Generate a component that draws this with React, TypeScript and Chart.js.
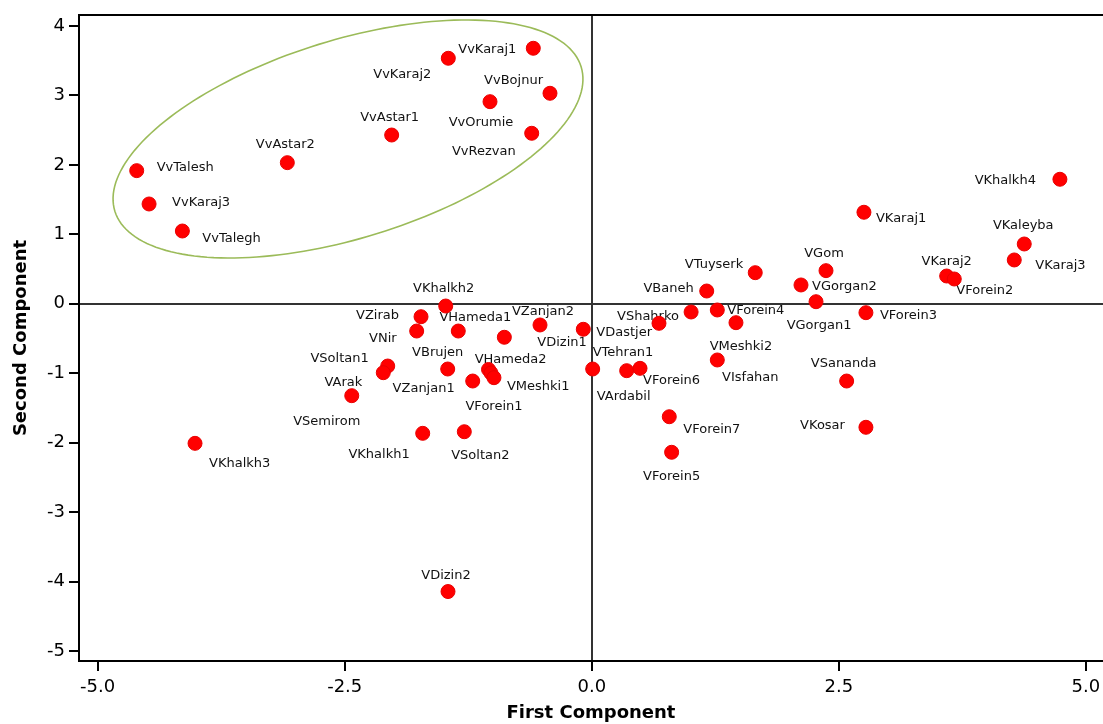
import React, { useEffect, useRef } from 'react';
import { Chart, registerables } from 'chart.js';

Chart.register(...registerables);

// Genotype names
const names: string[] = [
  'VvTalesh', 'VvKaraj3', 'VvTalegh', 'VvAstar2', 'VvAstar1', 'VvKaraj2', 'VvKaraj1', 'VvBojnur', 'VvOrumie', 'VvRezvan',
  'VKhalkh2', 'VZirab', 'VNir', 'VHameda1', 'VZanjan2', 'VDizin1', 'VDastjer', 'VSoltan1', 'VArak', 'VSemirom',
  'VBrujen', 'VZanjan1', 'VHameda2', 'VForein1', 'VMeshki1', 'VKhalkh1', 'VSoltan2', 'VKhalkh3', 'VDizin2',
  'VTuyserk', 'VGom', 'VGorgan2', 'VGorgan1', 'VBaneh', 'VShahrko', '', 'VForein4', 'VMeshki2', 'VIsfahan',
  'VTehran1', 'VArdabil', 'VForein6', 'VForein7', 'VForein5', 'VSananda', 'VKosar',
  'VKhalkh4', 'VKaraj1', 'VKaleyba', 'VKaraj3', 'VKaraj2', 'VForein2', 'VForein3',
];

// First principal component scores
const firstComponent: number[] = [
  -4.605, -4.480, -4.143, -3.081, -2.025, -1.452, -0.592, -0.423, -1.030, -0.608,
  -1.478, -1.728, -1.772, -1.351, -0.524, -0.885, -0.086, -2.065, -2.110, -2.429,
  -1.458, -1.205, -1.045, -1.020, -0.990, -1.711, -1.290, -4.015, -1.455,
  1.654, 2.370, 2.117, 2.269, 1.163, 0.680, 1.005, 1.270, 1.459, 1.270,
  0.009, 0.353, 0.488, 0.784, 0.808, 2.579, 2.774,
  4.737, 2.754, 4.376, 4.275, 3.591, 3.668, 2.774,
];

// Second principal component scores
const secondComponent: number[] = [
  1.917, 1.437, 1.048, 2.032, 2.430, 3.535, 3.679, 3.031, 2.910, 2.455,
  -0.032, -0.186, -0.392, -0.392, -0.305, -0.482, -0.367, -0.896, -0.992, -1.323,
  -0.939, -1.112, -0.946, -0.996, -1.064, -1.865, -1.842, -2.009, -4.143,
  0.448, 0.477, 0.271, 0.030, 0.184, -0.281, -0.118, -0.089, -0.272, -0.809,
  -0.939, -0.963, -0.929, -1.626, -2.138, -1.112, -1.778,
  1.793, 1.318, 0.861, 0.631, 0.400, 0.357, -0.128,
];

const xTickValues: number[] = [-5, -2.5, 0, 2.5, 5];
const yTickValues: number[] = [-5, -4, -3, -2, -1, 0, 1, 2, 3, 4];

// Ellipse enclosing the Vv group (data units: centre, semi-axis vectors)
const groupEllipse = { cx: -2.467, cy: 2.373, ux: 2.359, uy: 1.04, vx: 0.296, vy: -1.362 };

// Label placement (style): [textAlign, dx px, dy px]
const labelPlacement: Record<string, [CanvasTextAlign, number, number]> = {
  VvTalesh: ['left', 20, -3], VvKaraj3: ['left', 23, -1], VvTalegh: ['left', 20, 8],
  VvAstar2: ['center', -2, -18], VvAstar1: ['center', -2, -17], VvKaraj2: ['right', -17, 16],
  VvKaraj1: ['right', -17, 1], VvBojnur: ['right', -7, -13], VvOrumie: ['center', -9, 21],
  VvRezvan: ['right', -16, 18],
  VKhalkh2: ['center', -2, -17], VZirab: ['right', -22, -1], VNir: ['right', -20, 8],
  VHameda1: ['center', 17, -13], VZanjan2: ['center', 3, -13], VDizin1: ['left', 33, 5],
  VDastjer: ['left', 13, 3], VSoltan1: ['right', -19, -7], VArak: ['right', -21, 10],
  VSemirom: ['center', -25, 26], VBrujen: ['center', -10, -16], VZanjan1: ['right', -18, 8],
  VHameda2: ['center', 22, -10], VForein1: ['center', 3, 34], VMeshki1: ['left', 13, 9],
  VKhalkh1: ['right', -13, 21], VSoltan2: ['center', 16, 24], VKhalkh3: ['left', 14, 20],
  VDizin2: ['center', -2, -16],
  VTuyserk: ['right', -12, -8], VGom: ['center', -2, -17], VGorgan2: ['left', 11, 2],
  VGorgan1: ['center', 3, 24], VBaneh: ['right', -13, -2], VShahrko: ['center', -11, -7],
  VForein4: ['left', 10, 1], VMeshki2: ['center', 5, 24], VIsfahan: ['center', 33, 18],
  VTehran1: ['left', 0, -16], VArdabil: ['center', -3, 26], VForein6: ['left', 3, 12],
  VForein7: ['left', 14, 13], VForein5: ['center', 0, 24], VSananda: ['center', -3, -17],
  VKosar: ['right', -21, -2],
  VKhalkh4: ['right', -24, 1], VKaraj1: ['left', 12, 6], VKaleyba: ['center', -1, -18],
  VKaraj3: ['left', 21, 6], VKaraj2: ['center', 0, -14], VForein2: ['left', 2, 12],
  VForein3: ['left', 14, 3],
};

const FONT = '"DejaVu Sans", Verdana, sans-serif';

const overlayPlugin = {
  id: 'overlay',
  beforeDatasetsDraw(chart: any) {
    const { ctx, scales } = chart;
    const xs = scales.x;
    const ys = scales.y;
    ctx.save();
    // ellipse
    ctx.beginPath();
    const N = 180;
    for (let i = 0; i <= N; i++) {
      const t = (i / N) * Math.PI * 2;
      const dx = groupEllipse.cx + groupEllipse.ux * Math.cos(t) + groupEllipse.vx * Math.sin(t);
      const dy = groupEllipse.cy + groupEllipse.uy * Math.cos(t) + groupEllipse.vy * Math.sin(t);
      const px = xs.getPixelForValue(dx);
      const py = ys.getPixelForValue(dy);
      if (i === 0) ctx.moveTo(px, py);
      else ctx.lineTo(px, py);
    }
    ctx.closePath();
    ctx.strokeStyle = '#9bbb59';
    ctx.lineWidth = 1.6;
    ctx.stroke();
    // labels
    ctx.font = `13px ${FONT}`;
    ctx.fillStyle = '#111111';
    ctx.textBaseline = 'middle';
    names.forEach((name, i) => {
      if (!name) return;
      const place = labelPlacement[name] || ['left', 12, 0];
      const px = xs.getPixelForValue(firstComponent[i]);
      const py = ys.getPixelForValue(secondComponent[i]);
      ctx.textAlign = place[0];
      ctx.fillText(name, px + place[1], py + place[2]);
    });
    ctx.restore();
  },
  afterDraw(chart: any) {
    const { ctx, chartArea } = chart;
    ctx.save();
    ctx.strokeStyle = '#000000';
    ctx.lineWidth = 2;
    ctx.beginPath();
    ctx.moveTo(chartArea.left - 1, chartArea.top);
    ctx.lineTo(chartArea.right, chartArea.top);
    ctx.stroke();
    ctx.restore();
  },
};

export default function App() {
  const canvasRef = useRef<HTMLCanvasElement | null>(null);

  useEffect(() => {
    if (!canvasRef.current) return;
    const points = firstComponent.map((x, i) => ({ x, y: secondComponent[i] }));
    const zeroLine = (ctx: any) => (ctx.tick && ctx.tick.value === 0 ? '#333333' : 'rgba(0,0,0,0)');
    const chart = new Chart(canvasRef.current, {
      type: 'scatter',
      data: {
        datasets: [
          {
            label: 'Genotypes',
            data: points,
            pointRadius: 7,
            pointHoverRadius: 7,
            backgroundColor: '#ff0000',
            borderColor: '#e80000',
            borderWidth: 1,
            clip: false,
          },
        ],
      },
      options: {
        animation: false,
        responsive: false,
        events: [],
        layout: { autoPadding: false, padding: { top: 15, left: 0, right: 0, bottom: 0 } },
        plugins: {
          legend: { display: false },
          tooltip: { enabled: false },
        },
        scales: {
          x: {
            type: 'linear',
            min: -5.189,
            max: 5.173,
            afterBuildTicks: (scale: any) => {
              scale.ticks = xTickValues.map((v) => ({ value: v }));
            },
            afterFit: (scale: any) => {
              scale.height = 63;
              scale.paddingLeft = 0;
              scale.paddingRight = 0;
            },
            ticks: {
              color: '#000000',
              font: { family: FONT, size: 18 },
              padding: 6,
              maxRotation: 0,
              autoSkip: false,
              callback: (v: any) => Number(v).toFixed(1),
            },
            grid: {
              drawOnChartArea: true,
              color: zeroLine,
              lineWidth: 2,
              tickLength: 10,
              tickColor: '#000000',
              tickWidth: 2,
            },
            border: { display: true, color: '#000000', width: 2 },
            title: {
              display: true,
              text: 'First Component',
              color: '#000000',
              font: { family: FONT, size: 18, weight: 'bold' },
              padding: { top: 0, bottom: 0 },
            },
          },
          y: {
            type: 'linear',
            min: -5.143,
            max: 4.158,
            afterBuildTicks: (scale: any) => {
              scale.ticks = yTickValues.map((v) => ({ value: v }));
            },
            afterFit: (scale: any) => {
              scale.width = 79;
              scale.paddingTop = 0;
              scale.paddingBottom = 0;
            },
            ticks: {
              color: '#000000',
              font: { family: FONT, size: 18 },
              padding: 4,
              autoSkip: false,
              callback: (v: any) => String(v),
            },
            grid: {
              drawOnChartArea: true,
              color: zeroLine,
              lineWidth: 2,
              tickLength: 10,
              tickColor: '#000000',
              tickWidth: 2,
            },
            border: { display: true, color: '#000000', width: 2 },
            title: {
              display: true,
              text: 'Second Component',
              color: '#000000',
              font: { family: FONT, size: 18, weight: 'bold' },
              padding: { top: 11, bottom: 0 },
            },
          },
        },
      },
      plugins: [overlayPlugin],
    } as any);
    return () => chart.destroy();
  }, []);

  return (
    <div style={{ position: 'absolute', left: 0, top: 0, width: 1103, height: 724, background: '#ffffff' }}>
      <canvas ref={canvasRef} width={1103} height={724} style={{ display: 'block' }} />
    </div>
  );
}
